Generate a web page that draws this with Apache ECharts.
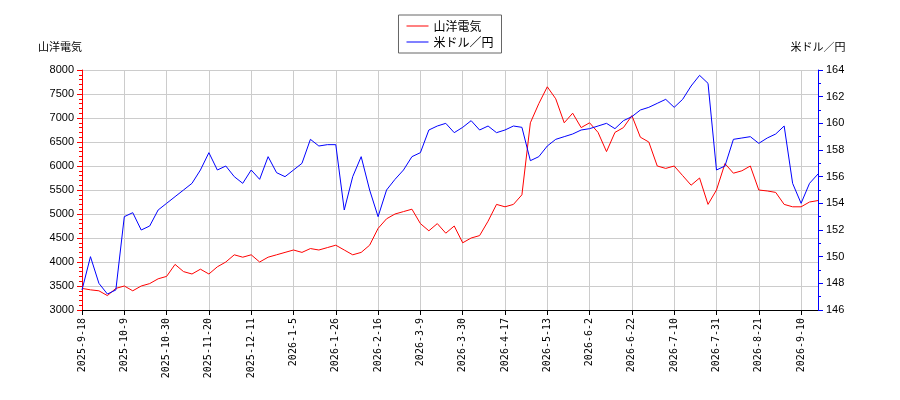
<!DOCTYPE html><html><head><meta charset="utf-8">
<script src="https://cdn.jsdelivr.net/npm/echarts@6/dist/echarts.min.js"></script>
<style>html,body{margin:0;padding:0;background:#fff}#c{width:900px;height:400px}</style></head><body><div id="c"></div>
<script>
const anchors=['2025-9-18','2025-10-9','2025-10-30','2025-11-20','2025-12-11','2026-1-5','2026-1-26','2026-2-16','2026-3-9','2026-3-30','2026-4-17','2026-5-13','2026-6-2','2026-6-22','2026-7-10','2026-7-31','2026-8-21','2026-9-10'];
const stockValues=[3450,3420,3400,3300,3450, 3500,3400,3500,3550,3650, 3700,3950,3800,3750,3850, 3750,3900,4000,4150,4100, 4150,4000,4100,4150,4200, 4250,4200,4280,4250,4300, 4350,4250,4150,4200,4350, 4700,4900,5000,5050,5100, 4800,4650,4800,4600,4750, 4400,4500,4550,4850,5200, 5150,5200,5400,6900,7300, 7650,7400,6900,7100,6800, 6900,6700,6300,6700,6800, 7050,6600,6500,6000,5950, 6000,5800,5600,5750,5200, 5500,6050,5850,5900,6000, 5500,5480,5450,5200,5150, 5150,5250,5280];
const usdjpyValues=[147.5,150.0,148.0,147.2,147.5, 153.0,153.3,152.0,152.3,153.5, 154.0,154.5,155.0,155.5,156.5, 157.8,156.5,156.8,156.0,155.5, 156.5,155.8,157.5,156.3,156.0, 156.5,157.0,158.8,158.3,158.4, 158.4,153.5,156.0,157.5,155.0, 153.0,155.0,155.8,156.5,157.5, 157.8,159.5,159.8,160.0,159.3, 159.7,160.2,159.5,159.8,159.3, 159.5,159.8,159.7,157.2,157.5, 158.3,158.8,159.0,159.2,159.5, 159.6,159.8,160.0,159.6,160.2, 160.5,161.0,161.2,161.5,161.8, 161.2,161.8,162.8,163.6,163.0, 156.5,156.8,158.8,158.9,159.0, 158.5,158.9,159.2,159.8,155.5, 154.0,155.5,156.2];
function fmt(d){return d.getFullYear()+'-'+(d.getMonth()+1)+'-'+d.getDate();}
const categories=[];
for(let i=0;i<anchors.length;i++){
  const a=new Date(anchors[i].replace(/-/g,'/'));
  const b=i+1<anchors.length?new Date(anchors[i+1].replace(/-/g,'/')):new Date(a.getTime()+21*864e5);
  const n=i+1<anchors.length?5:3;
  for(let k=0;k<n;k++){categories.push(k===0?anchors[i]:fmt(new Date(a.getTime()+(b-a)*k/5)));}
}
const ch=echarts.init(document.getElementById('c'));
ch.setOption({
  animation:false,
  legend:{top:15,left:'center',orient:'vertical',borderColor:'#666',borderWidth:1,borderRadius:0,padding:[5,8],itemGap:4,itemWidth:22,itemHeight:10,textStyle:{fontSize:12,color:'#000',fontFamily:'Noto Sans CJK JP'},data:[{name:'山洋電気',icon:'path://M0,5L22,5L22,6L0,6Z'},{name:'米ドル／円',icon:'path://M0,5L22,5L22,6L0,6Z'}]},
  grid:{left:82,right:82,top:70,bottom:90},
  xAxis:{type:'category',data:categories,boundaryGap:false,
    axisLine:{lineStyle:{color:'#000'}},axisTick:{interval:4,lineStyle:{color:'#000'}},
    axisLabel:{interval:4,rotate:90,fontSize:10,color:'#000',fontFamily:'DejaVu Sans Mono'},
    splitLine:{show:true,interval:4,lineStyle:{color:'#ccc'}}},
  yAxis:[
    {type:'value',min:3000,max:8000,interval:500,name:'山洋電気',nameGap:18,nameTextStyle:{color:'#000',fontSize:11,align:'right',fontFamily:'Noto Sans CJK JP'},
     axisLine:{show:true,lineStyle:{color:'red'}},axisTick:{show:true,lineStyle:{color:'red'}},minorTick:{show:true,splitNumber:5,lineStyle:{color:'red'}},
     axisLabel:{color:'#000',fontSize:11,formatter:v=>String(v)},splitLine:{lineStyle:{color:'#ccc'}}},
    {type:'value',min:146,max:164,interval:2,name:'米ドル／円',nameGap:18,nameTextStyle:{color:'#000',fontSize:11,align:'center',fontFamily:'Noto Sans CJK JP'},
     axisLine:{show:true,lineStyle:{color:'blue'}},axisTick:{show:true,lineStyle:{color:'blue'}},minorTick:{show:true,splitNumber:2,lineStyle:{color:'blue'}},
     axisLabel:{color:'#000',fontSize:11},splitLine:{show:false}}
  ],
  series:[
    {name:'山洋電気',type:'line',data:stockValues,yAxisIndex:0,symbol:'none',lineStyle:{color:'red',width:1},itemStyle:{color:'red'}},
    {name:'米ドル／円',type:'line',data:usdjpyValues,yAxisIndex:1,symbol:'none',lineStyle:{color:'blue',width:1},itemStyle:{color:'blue'}}
  ]
});
</script></body></html>
